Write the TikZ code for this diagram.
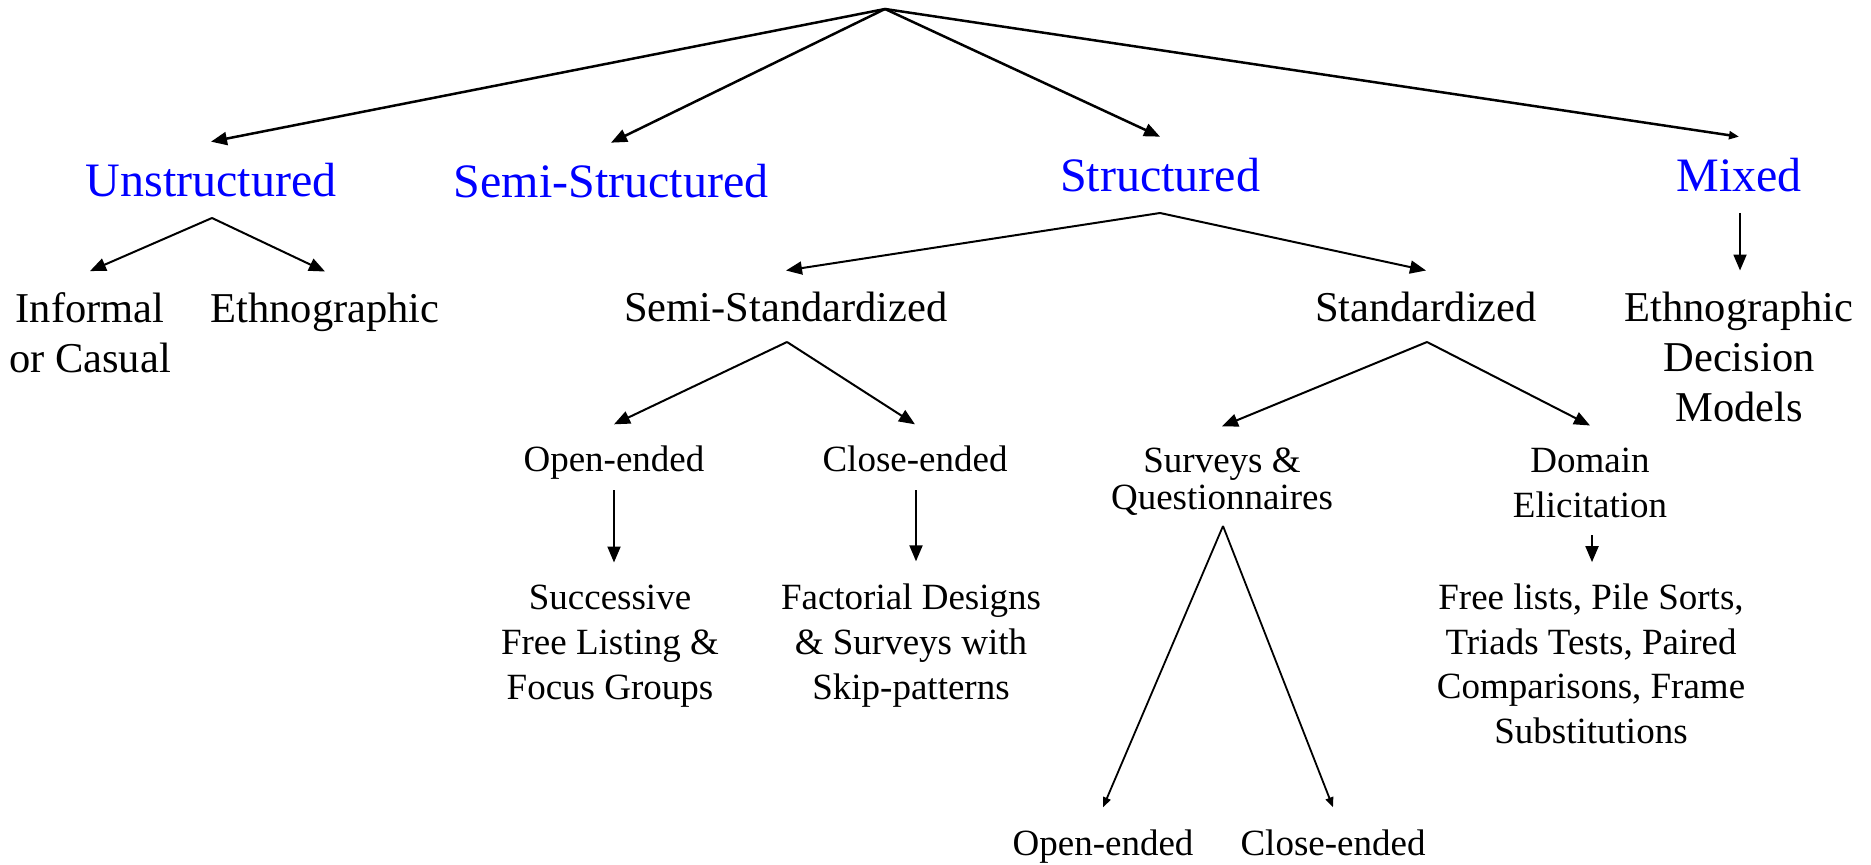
\documentclass[tikz,border=0pt]{standalone}
\usepackage{fontspec}
\setmainfont{Liberation Serif}
\usetikzlibrary{arrows.meta}
\definecolor{methodblue}{RGB}{0,0,255}

\begin{document}
\begin{tikzpicture}[
  x=0.5pt, y=-0.5pt,
  every node/.style={inner sep=0pt, outer ysep=11pt, anchor=base, align=center},
  method/.style={font=\fontsize{24}{28}\selectfont, text=methodblue},
  subtype/.style={font=\fontsize{21.25}{25}\selectfont},
  leaf/.style={font=\fontsize{18.5}{22.5}\selectfont},
  arrow/.style={-{Triangle[length=8pt, width=6.5pt]}, line width=1pt},
  toparrow/.style={arrow, line width=1.25pt},
  smallarrow/.style={-{Triangle[length=5pt, width=4pt]}, line width=0.9pt}
]
\useasboundingbox (0,0) rectangle (1871,865);

\coordinate (root) at (885,9);
\node[method] (unstr) at (211,197) {Unstructured};
\node[method] (semistr) at (611,198) {Semi-Structured};
\node[method] (str) at (1160,192) {Structured};
\node[method] (mixed) at (1739,192) {Mixed};

\node[subtype] (informal) at (90,373) {Informal\\or Casual};
\node[subtype] (ethno) at (325,323) {Ethnographic};
\node[subtype] (semistd) at (786,322) {Semi-Standardized};
\node[subtype] (std) at (1426,322) {Standardized};
\node[subtype] (edm) at (1739,422) {Ethnographic\\Decision\\Models};

\node[leaf] (open) at (614,472) {Open-ended};
\node[leaf] (close) at (915,472) {Close-ended};
\node[leaf, font=\fontsize{18.5}{18}\selectfont] (surveys) at (1222,509) {Surveys \&\\Questionnaires};
\node[leaf] (domain) at (1590,517) {Domain\\Elicitation};

\node[leaf] (successive) at (610,699) {Successive\\Free Listing \&\\Focus Groups};
\node[leaf] (factorial) at (911,699) {Factorial Designs\\\& Surveys with\\Skip-patterns};
\node[leaf, font=\fontsize{18.5}{22.2}\selectfont] (freelists) at (1591,743) {Free lists, Pile Sorts,\\Triads Tests, Paired\\Comparisons, Frame\\Substitutions};
\node[leaf] (open2) at (1103,855) {Open-ended};
\node[leaf] (close2) at (1333,855) {Close-ended};

\coordinate (unstr-fork) at (212,218);
\coordinate (str-fork) at (1160,213);
\coordinate (mixed-fork) at (1740,213);
\coordinate (semistd-fork) at (787,342);
\coordinate (std-fork) at (1427,342);
\coordinate (open-fork) at (614,490);
\coordinate (close-fork) at (916,490);
\coordinate (surveys-fork) at (1223,526);
\coordinate (domain-fork) at (1592,535);

\draw[toparrow] (root) -- (unstr.north);
\draw[toparrow] (root) -- (semistr.north);
\draw[toparrow] (root) -- (str.north);
\draw[toparrow, -{Triangle[length=5pt, width=4pt]}] (root) -- (mixed.north);
\draw[arrow] (unstr-fork) -- (informal.north);
\draw[arrow] (unstr-fork) -- (ethno.north);
\draw[arrow] (str-fork) -- (semistd.north);
\draw[arrow] (str-fork) -- (std.north);
\draw[arrow] (mixed-fork) -- (mixed-fork |- edm.north);
\draw[arrow] (semistd-fork) -- (open.north);
\draw[arrow] (semistd-fork) -- (close.north);
\draw[arrow] (std-fork) -- (surveys.north);
\draw[arrow] (std-fork) -- (domain.north);
\draw[arrow] (open-fork) -- (open-fork |- successive.north);
\draw[arrow] (close-fork) -- (close-fork |- factorial.north);
\draw[smallarrow] (surveys-fork) -- (open2.north);
\draw[smallarrow] (surveys-fork) -- (close2.north);
\draw[arrow] (domain-fork) -- (domain-fork |- freelists.north);
\end{tikzpicture}
\end{document}
